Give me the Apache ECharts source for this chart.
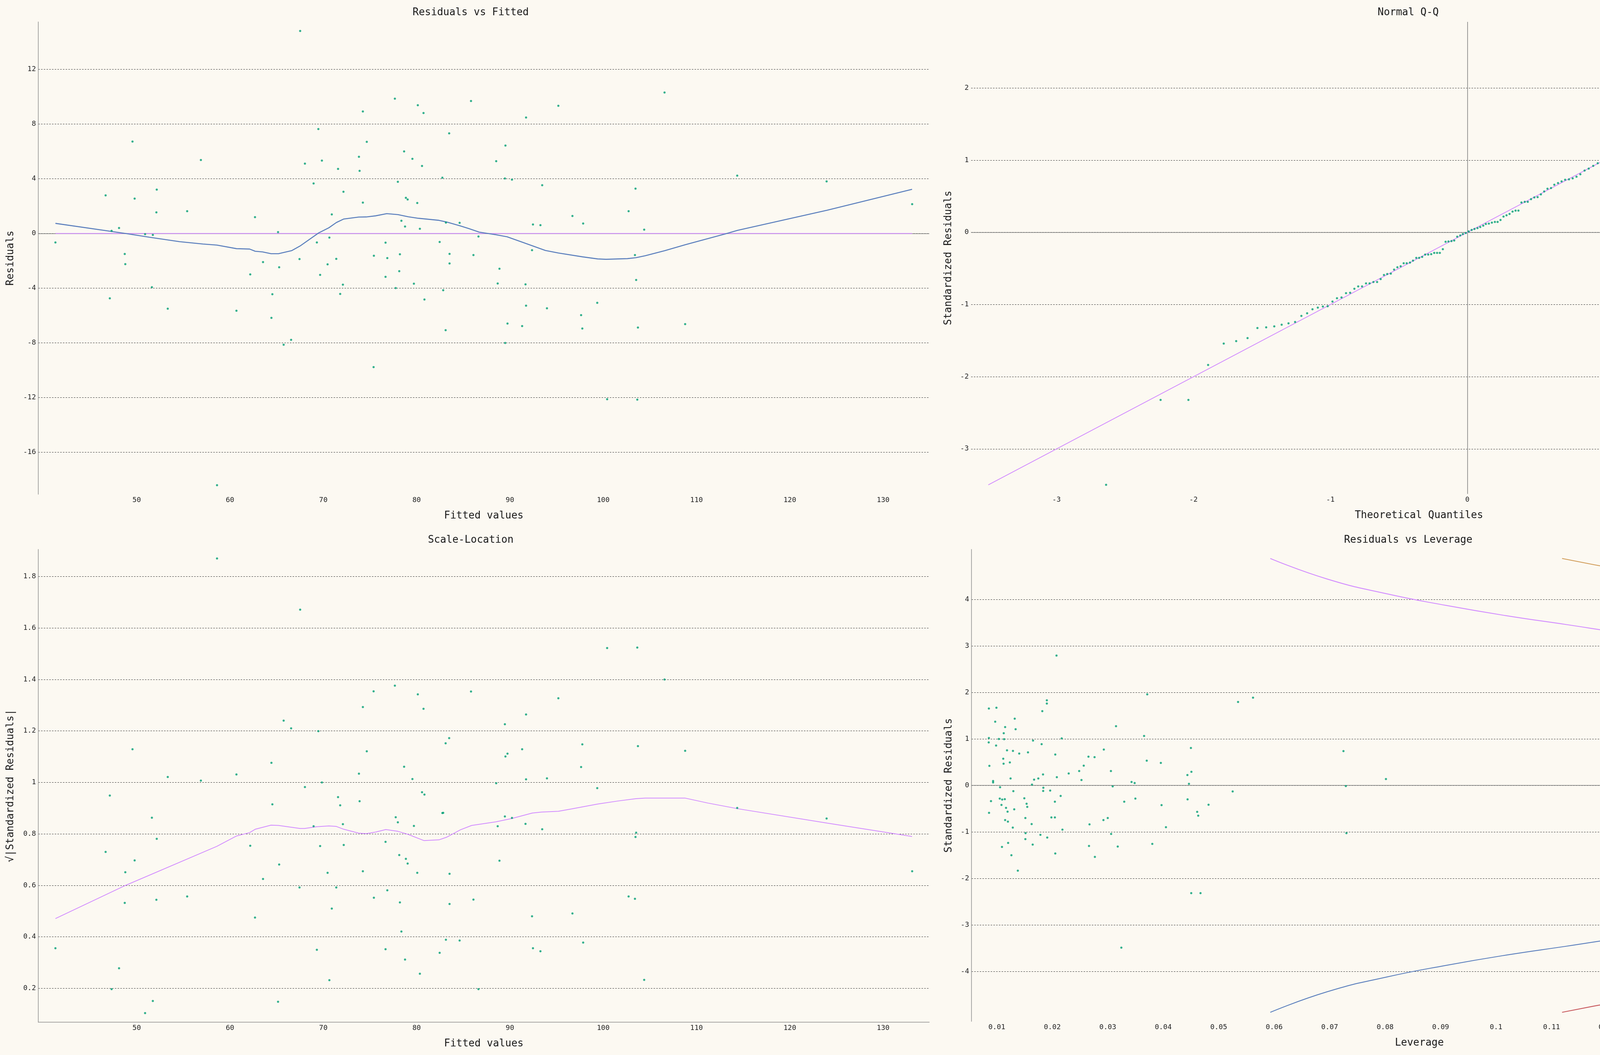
<!DOCTYPE html>
<html>
<head>
<meta charset="utf-8">
<title>Regression diagnostics</title>
<script src="https://cdn.jsdelivr.net/npm/echarts@6.0.0/dist/echarts.min.js"></script>
<style>
  html, body { margin: 0; padding: 0; background: #fcf9f2; }
  #main { width: 4800px; height: 2700px; }
</style>
</head>
<body>
<div id="main"></div>
<script>
// ---- Residuals vs Fitted ----
var rvfFitted = [41.29,46.67,47.31,48.11,49.55,49.78,50.90,51.73,52.15,52.11,55.41,56.88,62.68,65.15,67.52,68.03,68.96,69.47,69.85,70.91,
  71.58,72.16,73.82,73.89,74.24,74.24,74.66,77.67,77.99,78.37,78.66,78.76,78.85,79.04,79.55,80.07,80.13,80.35,80.58,80.74,
  82.76,83.14,83.49,84.61,
  47.12,48.72,48.78,51.63,53.33,58.61,60.69,62.17,63.54,64.44,64.54,65.27,65.75,66.55,67.45,69.31,69.66,70.46,70.65,71.39,
  71.81,72.10,75.39,75.42,76.67,76.67,76.86,77.76,78.14,78.21,79.71,80.84,82.47,82.85,83.11,83.53,83.53,
  85.83,95.19,91.73,106.57,89.52,88.53,89.46,90.22,93.46,114.36,123.94,103.46,102.72,96.70,97.85,92.47,93.27,104.39,133.11,86.63,
  86.09,92.37,88.88,103.40,
  88.69,91.67,103.53,91.73,93.97,99.36,97.63,89.74,91.31,97.76,103.72,108.78,89.49,100.42,103.65];
var rvfResid = [-0.66,2.79,0.19,0.40,6.72,2.55,-0.05,-0.11,3.21,1.54,1.63,5.37,1.19,0.10,14.81,5.11,3.66,7.64,5.33,1.39,
  4.72,3.05,5.61,4.58,8.92,2.26,6.70,9.86,3.78,0.93,6.00,0.51,2.61,2.49,5.46,2.23,9.38,0.34,4.94,8.81,
  4.08,0.79,7.32,0.78,
  -4.74,-1.50,-2.24,-3.93,-5.50,-18.41,-5.65,-2.99,-2.09,-6.17,-4.44,-2.47,-8.14,-7.78,-1.87,-0.66,-3.03,-2.26,-0.30,-1.86,
  -4.42,-3.74,-9.77,-1.63,-0.67,-3.17,-1.80,-3.99,-2.76,-1.52,-3.67,-4.83,-0.62,-4.15,-7.07,-1.49,-2.19,
  9.69,9.34,8.48,10.31,6.43,5.29,4.02,3.94,3.53,4.23,3.81,3.28,1.63,1.28,0.73,0.66,0.61,0.28,2.14,-0.22,
  -1.58,-1.22,-2.58,-1.58,
  -3.66,-3.72,-3.40,-5.28,-5.47,-5.07,-5.97,-6.59,-6.77,-6.95,-6.88,-6.63,-8.01,-12.12,-12.15];
var rvfSmoothX = [41.29,48.8,51.4,54.6,57.1,58.6,60.7,62.1,62.7,63.5,64.4,65.2,66.6,67.5,69.5,70.6,71.4,72.2,73.8,74.6,
  75.6,76.8,78.0,79.1,80.2,82.4,83.2,84.7,85.6,86.7,88.5,89.7,91.7,93.8,95.2,97.8,99.4,100.3,102.6,103.5,
  104.5,106.6,108.8,113.1,114.4,124.0,133.1];
var rvfSmoothY = [0.74,0.00,-0.28,-0.60,-0.77,-0.85,-1.11,-1.14,-1.30,-1.35,-1.48,-1.48,-1.26,-0.92,0.04,0.42,0.80,1.06,1.20,1.21,
  1.29,1.45,1.38,1.22,1.11,0.96,0.84,0.55,0.36,0.10,-0.09,-0.24,-0.73,-1.24,-1.43,-1.71,-1.86,-1.89,-1.84,-1.77,
  -1.63,-1.26,-0.82,-0.03,0.23,1.70,3.23];
var rvfXTicks = [50,60,70,80,90,100,110,120,130];
var rvfYTicks = [-16,-12,-8,-4,0,4,8,12];

// ---- Normal Q-Q ----
var qqTheoretical = [-2.638,-2.240,-2.037,-1.893,-1.779,-1.688,-1.605,-1.533,-1.469,-1.410,-1.356,-1.306,-1.258,-1.212,-1.170,-1.131,-1.092,-1.055,-1.020,-0.985,
  -0.952,-0.919,-0.886,-0.856,-0.825,-0.797,-0.769,-0.740,-0.714,-0.686,-0.659,-0.633,-0.609,-0.585,-0.559,-0.535,-0.511,-0.487,-0.465,-0.443,
  -0.419,-0.397,-0.373,-0.352,-0.330,-0.308,-0.286,-0.264,-0.242,-0.221,-0.201,-0.179,-0.159,-0.138,-0.116,-0.096,-0.074,-0.052,-0.033,-0.011,
  0.009,0.031,0.052,0.074,0.094,0.116,0.135,0.157,0.179,0.201,0.221,0.242,0.264,0.286,0.308,0.330,0.352,0.373,0.395,0.419,
  0.441,0.465,0.489,0.513,0.537,0.561,0.585,0.611,0.635,0.662,0.688,0.714,0.742,0.769,0.797,0.825,0.856,0.886,0.919,0.952,
  0.985,1.020,1.055,1.092,1.131,1.172,1.216,1.260,1.306,1.358,1.413,1.472,1.535,1.607,1.688,1.782,1.895,2.037,2.242,2.640];
var qqSample = [-3.498,-2.321,-2.321,-1.837,-1.540,-1.507,-1.465,-1.326,-1.316,-1.302,-1.279,-1.260,-1.242,-1.158,-1.121,-1.065,-1.042,-1.028,-1.023,-0.958,
  -0.912,-0.902,-0.842,-0.837,-0.781,-0.749,-0.749,-0.707,-0.707,-0.688,-0.688,-0.647,-0.591,-0.577,-0.572,-0.516,-0.484,-0.470,-0.428,-0.428,
  -0.419,-0.391,-0.353,-0.353,-0.340,-0.307,-0.307,-0.302,-0.284,-0.284,-0.284,-0.233,-0.130,-0.126,-0.121,-0.112,-0.060,-0.042,-0.023,-0.009,
  0.014,0.033,0.047,0.060,0.074,0.093,0.116,0.121,0.135,0.144,0.144,0.172,0.219,0.237,0.256,0.288,0.302,0.302,0.414,0.423,
  0.423,0.460,0.484,0.488,0.526,0.567,0.605,0.614,0.660,0.684,0.707,0.730,0.735,0.749,0.772,0.805,0.856,0.884,0.921,0.958,
  0.991,0.995,1.005,1.019,1.060,1.121,1.200,1.256,1.270,1.367,1.433,1.591,1.647,1.665,1.753,1.791,1.823,1.888,1.958,2.791];
var qqTicks = [-3,-2,-1,0,1,2];

// ---- Scale-Location ----
var slFitted = [41.29,46.67,47.12,47.31,48.11,48.72,48.78,49.55,49.78,50.90,51.63,51.73,52.15,52.11,53.33,55.41,56.88,58.61,60.69,62.17,
  62.68,63.54,64.44,64.54,65.15,65.27,65.75,66.55,67.45,67.52,68.03,68.96,69.31,69.47,69.66,69.85,70.46,70.65,70.91,71.39,
  71.58,71.81,72.10,72.19,73.82,73.89,74.24,74.24,74.66,75.39,75.42,76.67,76.67,76.86,77.67,77.76,77.99,78.14,78.21,78.37,
  78.66,78.76,78.85,79.04,79.55,79.71,80.07,80.13,80.35,80.58,80.74,80.84,82.47,82.76,82.85,83.11,83.14,83.49,83.53,83.53,
  84.61,
  85.83,86.09,86.63,88.53,88.69,88.88,89.46,89.46,89.52,89.74,90.22,91.31,91.67,91.73,91.73,92.37,92.47,93.27,93.46,93.97,
  95.19,96.70,97.63,97.76,97.85,99.36,100.42,102.72,103.40,103.46,103.53,103.65,103.72,104.39,106.57,108.78,114.36,123.94,133.11];
var slSqrtStd = [0.356,0.730,0.949,0.197,0.278,0.532,0.651,1.129,0.697,0.104,0.863,0.151,0.781,0.544,1.021,0.557,1.007,1.870,1.031,0.754,
  0.475,0.625,1.076,0.915,0.148,0.681,1.240,1.210,0.592,1.671,0.982,0.830,0.350,1.199,0.753,1.000,0.649,0.232,0.510,0.592,
  0.943,0.911,0.838,0.757,1.034,0.927,1.293,0.655,1.121,1.354,0.552,0.769,0.352,0.581,1.376,0.865,0.845,0.718,0.534,0.421,
  1.061,0.312,0.703,0.685,1.013,0.831,0.649,1.342,0.257,0.962,1.286,0.953,0.338,0.881,0.882,1.152,0.389,1.172,0.645,0.528,
  0.386,
  1.353,0.545,0.197,0.997,0.830,0.696,1.226,0.868,1.101,1.112,0.862,1.129,0.839,1.264,1.012,0.480,0.356,0.344,0.818,1.016,
  1.327,0.491,1.060,1.148,0.378,0.978,1.522,0.557,0.548,0.788,0.805,1.524,1.141,0.233,1.400,1.123,0.901,0.860,0.655];
var slSmoothX = [41.29,48.8,58.6,60.7,62.1,62.7,64.4,65.2,67.5,68.0,69.3,70.6,71.4,72.2,73.8,74.6,75.6,76.7,78.0,79.1,
  80.8,82.4,83.2,84.7,85.9,88.5,90.2,92.4,93.4,95.2,96.6,99.4,101.6,103.5,104.5,108.8,111.2,114.4,124.0,133.1];
var slSmoothY = [0.471,0.600,0.752,0.792,0.805,0.818,0.834,0.833,0.821,0.821,0.828,0.831,0.829,0.818,0.803,0.801,0.807,0.817,0.810,0.798,
  0.774,0.777,0.787,0.816,0.833,0.847,0.860,0.881,0.885,0.888,0.897,0.916,0.928,0.937,0.939,0.939,0.920,0.898,0.842,0.790];
var slYTicks = [0.2,0.4,0.6,0.8,1,1.2,1.4,1.6,1.8];

// ---- Residuals vs Leverage ----
var leverage = [0.00857,0.00993,0.00971,0.00857,0.00854,0.00987,0.01037,0.01132,0.01125,0.01150,
  0.01323,0.01339,0.01184,0.01291,0.01404,0.01562,0.01116,0.01122,0.01235,0.00866,
  0.01248,0.00933,0.00933,0.01059,0.00895,0.01053,0.01097,0.01144,0.01084,0.01166,
  0.01194,0.00860,0.01298,0.01314,0.01150,0.01200,0.01288,0.01204,0.01093,0.01263,
  0.01379,0.01496,0.01537,0.01549,0.01515,0.01518,0.01515,0.01628,0.01647,0.01653,
  0.01634,0.01672,0.01748,0.01808,0.01820,0.01902,0.01902,0.01833,0.01839,0.01836,
  0.01962,0.02076,0.02054,0.02082,0.02170,0.02047,0.02151,0.01984,0.02047,0.02183,
  0.01786,0.01909,0.02054,0.02296,0.02485,0.02526,0.02567,0.02652,0.02762,0.02929,
  0.02671,0.02662,0.02768,0.02922,0.03000,0.03057,0.03089,0.03149,0.03061,0.03180,
  0.03297,0.03429,0.03485,0.03498,0.03655,0.03703,0.03712,0.03803,0.03957,0.03970,
  0.04049,0.04436,0.04464,0.04439,0.04499,0.04508,0.04505,0.04672,0.04612,0.04631,
  0.04817,0.03245,0.05252,0.05349,0.05619,0.07249,0.07292,0.07303,0.08015,0.1261];
var levStdResid = [1.653,1.670,1.370,1.019,0.925,0.857,0.998,0.994,1.122,1.255,
  1.435,1.208,0.754,0.741,0.685,0.711,0.574,0.467,0.493,0.420,
  0.150,0.094,0.064,-0.039,-0.338,-0.283,-0.304,-0.296,-0.420,-0.484,
  -0.565,-0.591,-0.124,-0.514,-0.745,-0.779,-0.908,-1.238,-1.323,-1.503,
  -1.833,-0.278,-0.394,-0.463,-0.702,-1.028,-1.156,-0.831,-1.272,0.964,
  0.017,0.124,0.150,0.887,1.597,1.829,1.760,0.236,-0.051,-0.120,
  -0.111,2.792,0.664,0.176,1.011,-0.351,-0.227,-0.690,-0.690,-0.951,
  -1.062,-1.122,-1.465,0.257,0.308,0.116,0.424,0.617,0.608,0.771,
  -0.839,-1.302,-1.537,-0.745,-0.702,0.308,-0.021,1.272,-1.045,-1.315,
  -0.351,0.073,0.051,-0.283,1.062,0.531,1.957,-1.259,0.484,-0.424,
  -0.899,0.223,0.034,-0.300,0.805,0.291,-2.317,-2.317,-0.570,-0.651,
  -0.415,-3.490,-0.130,1.793,1.887,0.737,-0.015,-1.027,0.137,0.426];
// Cook's distance contours
var cookHalfX = [0.0593,0.0695,0.0803,0.0910,0.1018,0.1126,0.1234,0.1342,0.1450,0.1558,0.1638];
var cookHalfUpper = [4.88,4.44,4.12,3.87,3.65,3.46,3.27,3.12,2.98,2.85,2.77];
var cookHalfLower = [-4.88,-4.44,-4.12,-3.87,-3.65,-3.46,-3.27,-3.12,-2.98,-2.85,-2.77];
var cookOneX = [0.1119,0.1234,0.1342,0.1450,0.1558,0.1638];
var cookOneUpper = [4.88,4.62,4.41,4.21,4.04,3.91];
var cookOneLower = [-4.88,-4.62,-4.41,-4.21,-4.04,-3.91];
var levXTicks = [0.01,0.02,0.03,0.04,0.05,0.06,0.07,0.08,0.09,0.1,0.11,0.12,0.13,0.14,0.15,0.16];
var levYTicks = [-4,-3,-2,-1,0,1,2,3,4];

var FONT = 'DejaVu Sans Mono';
var POINT = '#009e73';
var PURPLE = '#d28cff';
var BLUE = '#5b7fbd';

function zip(xs, ys) {
  return xs.map(function (x, i) { return [x, ys[i]]; });
}
function pad(lo, hi) {
  var d = (hi - lo) * 0.02;
  return [lo - d, hi + d];
}
function minOf(a) { return Math.min.apply(null, a); }
function maxOf(a) { return Math.max.apply(null, a); }

function axis(grid, range, ticks, name, gap, showLine, showSplit, digits) {
  return {
    type: 'value', gridIndex: grid, min: range[0], max: range[1],
    name: name, nameLocation: 'middle', nameGap: gap,
    nameTextStyle: { fontFamily: FONT, fontSize: 26, color: '#1a1a1a' },
    axisLine: { show: showLine, onZero: false, lineStyle: { color: '#8c8c8c', width: 1.5 } },
    axisTick: { show: false, customValues: ticks },
    axisLabel: {
      customValues: ticks, margin: 6, fontFamily: FONT, fontSize: 18, color: '#222',
      formatter: function (v) { return String(+v.toFixed(digits)); }
    },
    splitLine: { show: showSplit, lineStyle: { type: [4, 3], color: '#333', width: 1.2 } }
  };
}

function zeroLine(axisKey) {
  var d = {}; d[axisKey] = 0;
  return {
    silent: true, symbol: 'none', z: 1, animation: false,
    label: { show: false },
    lineStyle: { type: 'solid', color: '#7a7a7a', width: 1.5 },
    data: [d]
  };
}

var rvfXRange = pad(minOf(rvfFitted), maxOf(rvfFitted));
var rvfYRange = pad(minOf(rvfResid), maxOf(rvfResid));
var qqRange = pad(minOf(qqSample), maxOf(qqSample));
var slYRange = pad(minOf(slSqrtStd), maxOf(slSqrtStd));
var levXRange = pad(minOf(leverage), maxOf(cookHalfX.concat(cookOneX)));
var levYRange = pad(minOf(cookHalfLower.concat(cookOneLower)), maxOf(cookHalfUpper.concat(cookOneUpper)));

var titleStyle = { fontFamily: FONT, fontSize: 26, fontWeight: 'normal', color: '#1a1a1a' };

var chart = echarts.init(document.getElementById('main'));
var option = {
  backgroundColor: '#fcf9f2',
  animation: false,
  textStyle: { fontFamily: FONT },
  title: [
    { text: 'Residuals vs Fitted', left: 1200, top: 14, textAlign: 'center', textStyle: titleStyle },
    { text: 'Normal Q-Q', left: 3600, top: 14, textAlign: 'center', textStyle: titleStyle },
    { text: 'Scale-Location', left: 1200, top: 1364, textAlign: 'center', textStyle: titleStyle },
    { text: 'Residuals vs Leverage', left: 3600, top: 1364, textAlign: 'center', textStyle: titleStyle }
  ],
  grid: [
    { left: 98, top: 56, width: 2281, height: 1209 },
    { left: 2486, top: 56, width: 2293, height: 1208 },
    { left: 98, top: 1406, width: 2281, height: 1210 },
    { left: 2487, top: 1406, width: 2293, height: 1208 }
  ],
  xAxis: [
    axis(0, rvfXRange, rvfXTicks, 'Fitted values', 42, false, false, 0),
    axis(1, qqRange, qqTicks, 'Theoretical Quantiles', 42, false, false, 0),
    axis(2, rvfXRange, rvfXTicks, 'Fitted values', 42, true, false, 0),
    axis(3, levXRange, levXTicks, 'Leverage', 42, false, false, 2)
  ],
  yAxis: [
    axis(0, rvfYRange, rvfYTicks, 'Residuals', 58, true, true, 0),
    axis(1, qqRange, qqTicks, 'Standardized Residuals', 45, false, true, 0),
    axis(2, slYRange, slYTicks, '√|Standardized Residuals|', 58, true, true, 1),
    axis(3, levYRange, levYTicks, 'Standardized Residuals', 45, true, true, 0)
  ],
  series: [
    // Residuals vs Fitted
    {
      type: 'line', xAxisIndex: 0, yAxisIndex: 0, symbol: 'none', z: 2,
      data: [[minOf(rvfFitted), 0], [maxOf(rvfFitted), 0]],
      lineStyle: { color: PURPLE, width: 2.2 },
      markLine: zeroLine('yAxis')
    },
    {
      type: 'line', xAxisIndex: 0, yAxisIndex: 0, symbol: 'none', z: 3,
      data: zip(rvfSmoothX, rvfSmoothY),
      lineStyle: { color: BLUE, width: 2.6 }
    },
    {
      type: 'scatter', xAxisIndex: 0, yAxisIndex: 0, symbolSize: 5.5, z: 4,
      data: zip(rvfFitted, rvfResid),
      itemStyle: { color: POINT }
    },
    // Normal Q-Q
    {
      type: 'line', xAxisIndex: 1, yAxisIndex: 1, symbol: 'none', z: 2,
      data: [[minOf(qqSample), minOf(qqSample)], [maxOf(qqSample), maxOf(qqSample)]],
      lineStyle: { color: PURPLE, width: 2 },
      markLine: {
        silent: true, symbol: 'none', z: 1, label: { show: false },
        lineStyle: { type: 'solid', color: '#7a7a7a', width: 1.5 },
        data: [{ xAxis: 0 }, { yAxis: 0 }]
      }
    },
    {
      type: 'scatter', xAxisIndex: 1, yAxisIndex: 1, symbolSize: 5.5, z: 4,
      data: zip(qqTheoretical, qqSample),
      itemStyle: { color: POINT }
    },
    // Scale-Location
    {
      type: 'line', xAxisIndex: 2, yAxisIndex: 2, symbol: 'none', z: 2,
      data: zip(slSmoothX, slSmoothY),
      lineStyle: { color: PURPLE, width: 2 }
    },
    {
      type: 'scatter', xAxisIndex: 2, yAxisIndex: 2, symbolSize: 5.5, z: 4,
      data: zip(slFitted, slSqrtStd),
      itemStyle: { color: POINT }
    },
    // Residuals vs Leverage
    {
      type: 'line', xAxisIndex: 3, yAxisIndex: 3, symbol: 'none', smooth: true, z: 2,
      data: zip(cookHalfX, cookHalfUpper),
      lineStyle: { color: PURPLE, width: 2.2 },
      markLine: zeroLine('yAxis')
    },
    {
      type: 'line', xAxisIndex: 3, yAxisIndex: 3, symbol: 'none', smooth: true, z: 2,
      data: zip(cookOneX, cookOneUpper),
      lineStyle: { color: '#d09a55', width: 2.2 }
    },
    {
      type: 'line', xAxisIndex: 3, yAxisIndex: 3, symbol: 'none', smooth: true, z: 2,
      data: zip(cookHalfX, cookHalfLower),
      lineStyle: { color: BLUE, width: 2.2 }
    },
    {
      type: 'line', xAxisIndex: 3, yAxisIndex: 3, symbol: 'none', smooth: true, z: 2,
      data: zip(cookOneX, cookOneLower),
      lineStyle: { color: '#c7575c', width: 2.2 }
    },
    {
      type: 'scatter', xAxisIndex: 3, yAxisIndex: 3, symbolSize: 5.5, z: 4,
      data: zip(leverage, levStdResid),
      itemStyle: { color: POINT }
    }
  ]
};
chart.setOption(option);
</script>
</body>
</html>
